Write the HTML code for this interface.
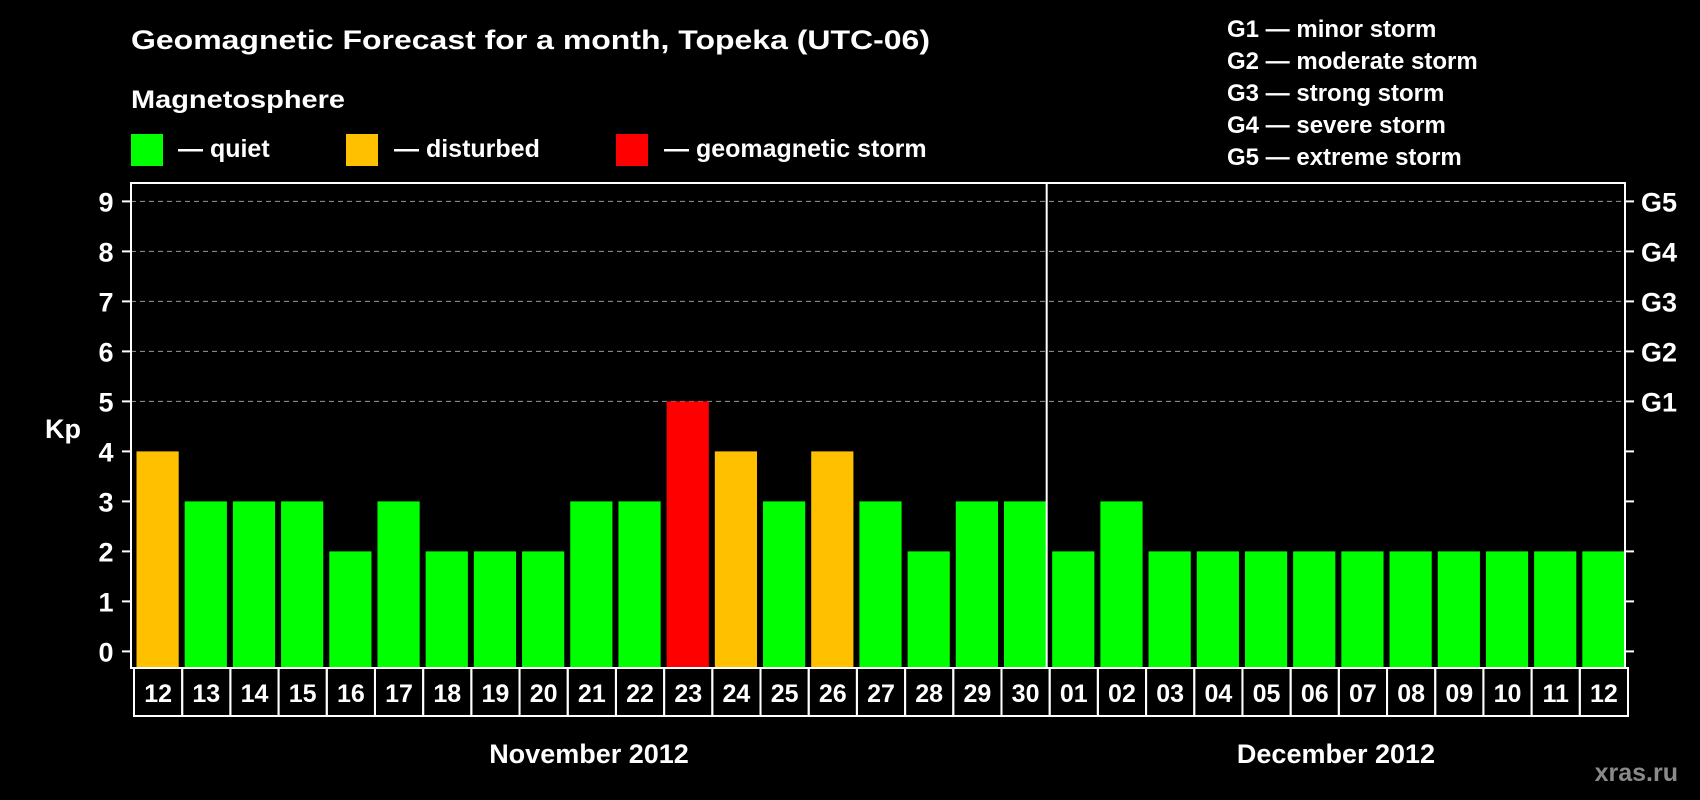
<!DOCTYPE html>
<html><head><meta charset="utf-8"><style>
html,body{margin:0;padding:0;background:#000;}
svg{display:block;font-family:"Liberation Sans",Arial,sans-serif;font-weight:bold;}
</style></head><body>
<svg id="chart" width="1700" height="800" viewBox="0 0 1700 800">
<text x="131" y="49" fill="#fff" font-size="27" textLength="799" lengthAdjust="spacingAndGlyphs">Geomagnetic Forecast for a month, Topeka (UTC-06)</text>
<text x="131" y="108" fill="#fff" font-size="25" textLength="214" lengthAdjust="spacingAndGlyphs">Magnetosphere</text>
<g>
<rect x="131" y="134" width="32" height="32" fill="#00ff00"/>
<text x="178" y="157" fill="#fff" font-size="25">— quiet</text></g>
<g>
<rect x="346" y="134" width="32" height="32" fill="#ffc000"/>
<text x="394" y="157" fill="#fff" font-size="25">— disturbed</text></g>
<g>
<rect x="616" y="134" width="32" height="32" fill="#ff0000"/>
<text x="664" y="157" fill="#fff" font-size="25">— geomagnetic storm</text></g>
<g fill="#fff" font-size="24">
<text x="1227" y="37">G1 — minor storm</text>
<text x="1227" y="69">G2 — moderate storm</text>
<text x="1227" y="101">G3 — strong storm</text>
<text x="1227" y="133">G4 — severe storm</text>
<text x="1227" y="165">G5 — extreme storm</text>
</g>
<text x="63" y="438" fill="#fff" font-size="27" text-anchor="middle">Kp</text>
<g id="plot"></g>
<text x="589" y="763" fill="#fff" font-size="27" text-anchor="middle">November 2012</text>
<text x="1336" y="763" fill="#fff" font-size="27" text-anchor="middle">December 2012</text>
<text x="1678" y="781" fill="#8a8a8a" font-size="25" text-anchor="end">xras.ru</text>
</svg>
<script>
const days = ["12","13","14","15","16","17","18","19","20","21","22","23","24","25","26","27","28","29","30","01","02","03","04","05","06","07","08","09","10","11","12"];
const kpValues = [4,3,3,3,2,3,2,2,2,3,3,5,4,3,4,3,2,3,3,2,3,2,2,2,2,2,2,2,2,2,2];
const yTicks = [0,1,2,3,4,5,6,7,8,9];
const gLabels = ["","","","","","G1","G2","G3","G4","G5"];
const novCount = 19;

const NS="http://www.w3.org/2000/svg";
const plot=document.getElementById('plot');
const L=131,R=1625,T=183,B=668;
const y0=651.4, unit=50;
const slot=(R-L)/days.length;
function yS(v){return y0-v*unit;}
function xS(i){return L+i*slot;}
function mk(tag,attrs){const e=document.createElementNS(NS,tag);for(const k in attrs)e.setAttribute(k,attrs[k]);plot.appendChild(e);return e;}
function color(v){return v>=5?"#ff0000":(v>=4?"#ffc000":"#00ff00");}

yTicks.forEach((t,i)=>{
  const y=yS(t);
  if(t>=5){const g=mk('line',{x1:L,x2:R,y1:y,y2:y,stroke:"#999",'stroke-width':1,'stroke-dasharray':"5,4"});
  
  }
  const tl=mk('line',{x1:L-9,x2:L,y1:y,y2:y,stroke:"#fff",'stroke-width':2});
  
  
  const tr=mk('line',{x1:R,x2:R+9,y1:y,y2:y,stroke:"#fff",'stroke-width':2});
  
  
  const lb=mk('text',{x:106,y:y+10,fill:"#fff",'font-size':27,'text-anchor':'middle'});
  lb.textContent=t;
  
  
  if(gLabels[i]){const g=mk('text',{x:1641,y:y+10,fill:"#fff",'font-size':27});
  g.textContent=gLabels[i];
  
  }
});

kpValues.forEach((v,i)=>{
  const b=mk('rect',{x:xS(i)+5.5,y:yS(v),width:slot-6,height:B-1-yS(v),fill:color(v)});
  
  
});

const fr=mk('rect',{x:L,y:T,width:R-L,height:B-T,fill:"none",stroke:"#fff",'stroke-width':2});


const sep=mk('line',{x1:xS(novCount),x2:xS(novCount),y1:T,y2:B,stroke:"#fff",'stroke-width':2});



days.forEach((d,i)=>{
  const c=mk('rect',{x:xS(i)+3,y:B,width:slot,height:48,fill:"none",stroke:"#fff",'stroke-width':2});
  
  
  const t=mk('text',{x:xS(i)+3+slot/2,y:B+34,fill:"#fff",'font-size':25,'text-anchor':'middle'});
  t.textContent=d;
  
  
});
</script>
</body></html>
